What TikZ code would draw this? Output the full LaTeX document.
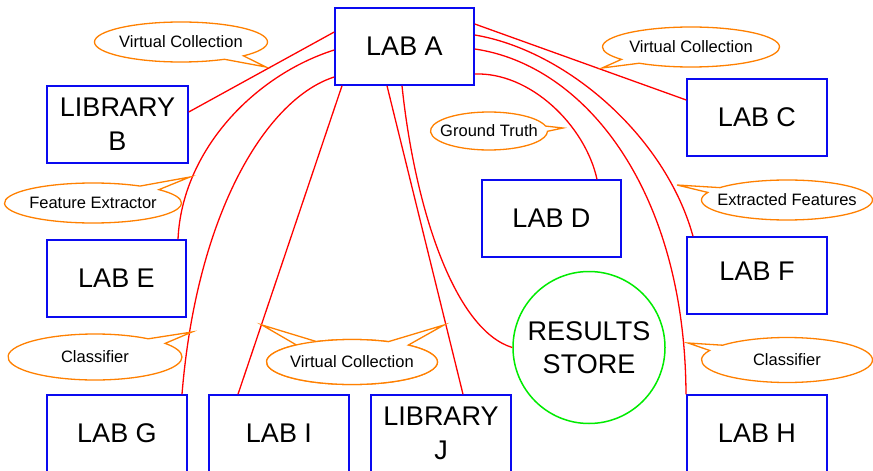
\documentclass[tikz,border=0pt]{standalone}
\usepackage{fontspec}
\setmainfont{Liberation Sans}
\usetikzlibrary{shapes.callouts}
\definecolor{boxblue}{RGB}{10,10,240}
\definecolor{linkred}{RGB}{255,0,0}
\definecolor{noteorange}{RGB}{255,128,0}
\definecolor{storegreen}{RGB}{0,235,0}
\newcommand{\notetext}[1]{\makebox[0pt]{#1}}
\tikzset{
  labbox/.style={draw=boxblue, line width=1.5pt, fill=white, minimum width=140pt,
    minimum height=77pt, inner sep=0pt, align=center,
    font=\fontsize{27}{34}\selectfont},
  store/.style={draw=storegreen, line width=1.5pt, fill=white, circle,
    minimum size=152pt, inner sep=0pt, align=center,
    font=\fontsize{27}{33}\selectfont},
  link/.style={draw=linkred, line width=1.3pt},
  note/.style={ellipse callout, draw=noteorange, line width=1.3pt, fill=white,
    inner sep=0pt, callout pointer arc=16, font=\fontsize{16.5}{20}\selectfont}
}
\begin{document}
\begin{tikzpicture}[x=1pt,y=-1pt]
\useasboundingbox (0,0) rectangle (873,471);

% laboratories and libraries
\node[labbox, minimum width=139pt] (A) at (404.5,46.5) {LAB A};
\node[labbox, minimum width=141pt] (B) at (117.5,124.5) {LIBRARY\\B};
\node[labbox] (C) at (757,117.5) {LAB C};
\node[labbox, minimum width=139pt] (D) at (551.5,218.5) {LAB D};
\node[labbox, minimum width=139pt] (E) at (116.5,278.5) {LAB E};
\node[labbox] (F) at (757,275.5) {\raisebox{8pt}{LAB F}};
\node[labbox] (G) at (117,433.5) {LAB G};
\node[labbox] (I) at (279,433.5) {LAB I};
\node[labbox] (J) at (441,433.5) {LIBRARY\\J};
\node[labbox] (H) at (757,433.5) {LAB H};
\node[store] (R) at (589,347.5) {RESULTS\\STORE};

% links from LAB A
\draw[link] ([yshift=14.5pt]A.west) -- ([yshift=12.5pt]B.east);
\draw[link] ([yshift=22.5pt]A.east) -- ([yshift=17.5pt]C.west);
\draw[link] ([yshift=-3.5pt]A.west) .. controls (255,75) and (182,150) .. ([xshift=61.5pt]E.north);
\draw[link] ([yshift=-30.5pt]A.west) .. controls (268,98) and (197,210) .. ([xshift=65pt]G.north);
\draw[link] ([xshift=-62.5pt]A.south) -- ([xshift=-41pt]I.north);
\draw[link] ([xshift=-17.5pt]A.south) -- ([xshift=22pt]J.north);
\draw[link] ([xshift=-2.5pt]A.south) .. controls (415,210) and (455,330) .. (R.west);
\draw[link] ([yshift=-27.5pt]A.east) .. controls (530,72) and (585,125) .. ([xshift=45.5pt]D.north);
\draw[link] ([yshift=11.5pt]A.east) .. controls (565,50) and (665,135) .. ([xshift=-64pt]F.north);
\draw[link] ([yshift=-2.5pt]A.east) .. controls (585,65) and (685,190) .. ([xshift=-71pt]H.north);

% pointer tips of the notes
\coordinate (t1) at (266,67);
\coordinate (t2) at (602,68);
\coordinate (t3) at (563,128);
\coordinate (t4) at (190,177);
\coordinate (t5) at (677,185);
\coordinate (t6) at (192,332);
\coordinate (t7a) at (262,325);
\coordinate (t7b) at (444,325);
\coordinate (t8) at (688,343);

% notes
\node[note, minimum width=173pt, minimum height=40pt, callout absolute pointer={(t1)}] (n1) at (181,42) {\notetext{Virtual Collection}};
\node[note, minimum width=177pt, minimum height=40pt, callout absolute pointer={(t2)}] (n2) at (691,47) {\notetext{Virtual Collection}};
\node[note, minimum width=117pt, minimum height=38pt, callout absolute pointer={(t3)}] (n3) at (489,131) {\notetext{Ground Truth}};
\node[note, minimum width=177pt, minimum height=40pt, callout absolute pointer={(t4)}] (n4) at (93,203) {\notetext{Feature Extractor}};
\node[note, minimum width=171pt, minimum height=40pt, callout absolute pointer={(t5)}] (n5) at (787,200) {\notetext{Extracted Features}};
\node[note, minimum width=174pt, minimum height=46pt, callout absolute pointer={(t6)}] (n6) at (95,357) {\notetext{Classifier}};
\node[note, minimum width=171pt, minimum height=45pt, callout absolute pointer={(t7a)}] (n7a) at (352,362) {};
\node[note, minimum width=171pt, minimum height=45pt, callout absolute pointer={(t7b)}] (n7) at (352,362) {\notetext{Virtual Collection}};
\node[note, minimum width=171pt, minimum height=45pt, callout absolute pointer={(t8)}] (n8) at (787,360) {\notetext{Classifier}};
\end{tikzpicture}
\end{document}
